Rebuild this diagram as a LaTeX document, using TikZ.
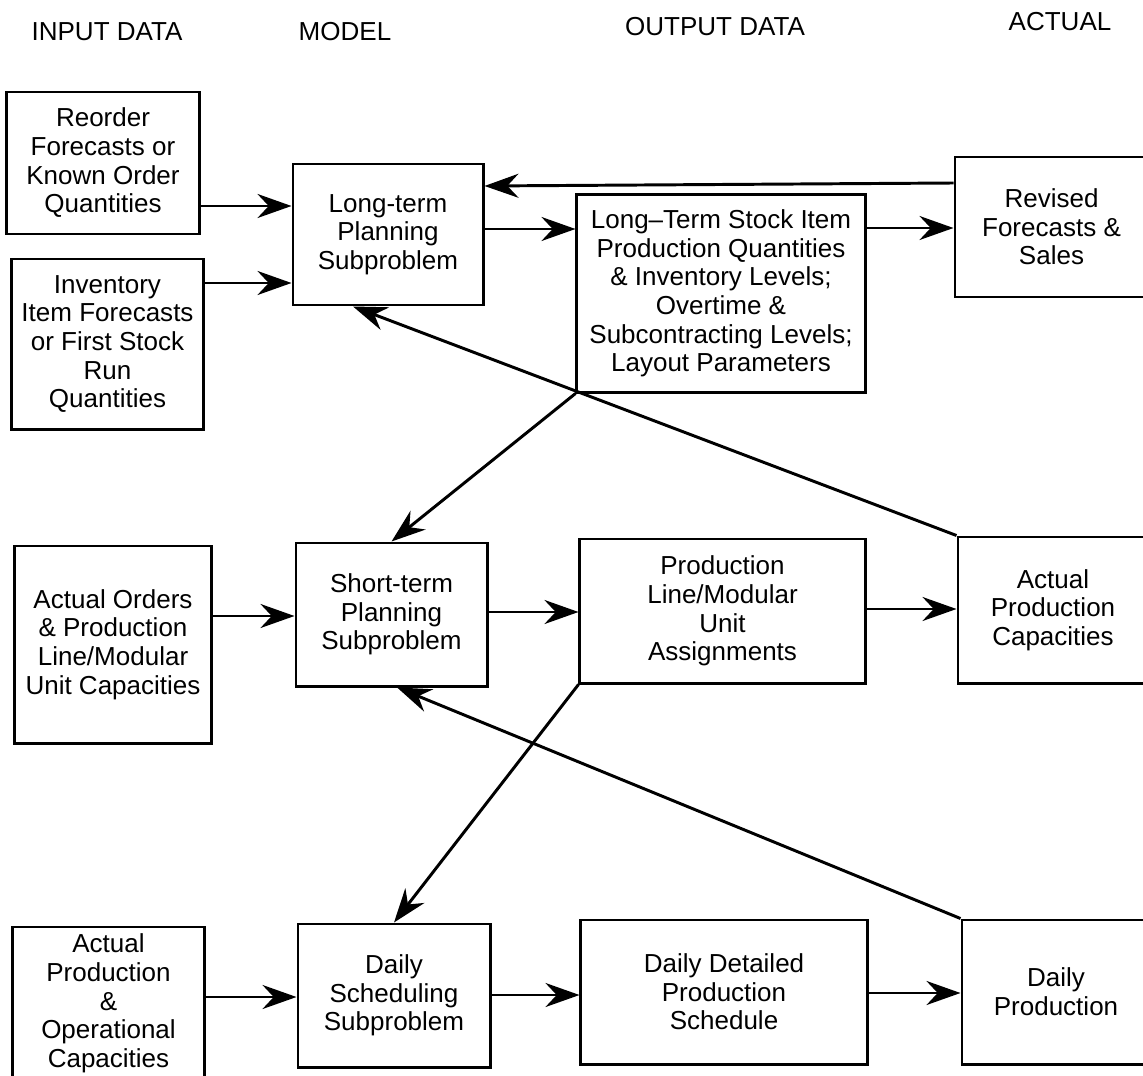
\documentclass[tikz,border=0pt]{standalone}
\usepackage{fontspec}
\setmainfont{Liberation Sans}
\usetikzlibrary{arrows.meta, positioning, calc}

\begin{document}
\begin{tikzpicture}[
    x=0.025cm, y=-0.025cm,
    box/.style={
        rectangle,
        draw=black,
        line width=2.1pt,
        font=\fontsize{18.5}{20.4}\selectfont,
        align=center,
        inner sep=0pt
    },
    arrow/.style={
        -{Stealth[length=0.85cm, width=0.6cm, inset=0.28cm]},
        line width=2.1pt
    },
    colhead/.style={
        font=\fontsize{18.5}{20.4}\selectfont
    }
]

\useasboundingbox (0,0) rectangle (1143,1076);
\clip (0,0) rectangle (1143,1076);

% Column headings
\node[colhead] (h-input) at (107,32) {INPUT DATA};
\node[colhead] (h-model) at (345,32) {MODEL};
\node[colhead] (h-output) at (715,27) {OUTPUT DATA};
\node[colhead] (h-actual) at (1060,22) {ACTUAL};

% Long-term level
\node[box, minimum width=4.8cm, minimum height=3.55cm] (reorder) at (103,163)
    {Reorder\\Forecasts or\\Known Order\\Quantities};
\node[box, minimum width=4.775cm, minimum height=4.25cm] (inv-fc) at (107.5,344)
    {Inventory\\Item Forecasts\\or First Stock\\Run\\Quantities};
\node[box, minimum width=4.75cm, minimum height=3.525cm] (lt-plan) at (388,234.5)
    {Long-term\\Planning\\Subproblem};
\node[box, minimum width=7.2cm, minimum height=4.925cm] (lt-out) at (721,293.5)
    {Long--Term Stock Item\\Production Quantities\\\& Inventory Levels;\\Overtime \&\\Subcontracting Levels;\\Layout Parameters};
\node[box, minimum width=4.825cm, minimum height=3.5cm] (revised) at (1051.5,227)
    {Revised\\Forecasts \&\\Sales};

% Short-term level
\node[box, minimum width=4.9cm, minimum height=4.925cm] (act-orders) at (113,644.5)
    {Actual Orders\\\& Production\\Line/Modular\\Unit Capacities};
\node[box, minimum width=4.775cm, minimum height=3.575cm] (st-plan) at (391.5,614.5)
    {Short-term\\Planning\\Subproblem};
\node[box, minimum width=7.125cm, minimum height=3.6cm] (st-out) at (722.5,611)
    {Production\\Line/Modular\\Unit\\Assignments};
\node[box, minimum width=4.75cm, minimum height=3.65cm] (act-cap) at (1053,610)
    {Actual\\Production\\Capacities};

% Daily level
\node[box, minimum width=4.775cm, minimum height=3.825cm] (act-prod) at (108.5,1003.5)
    {Actual\\Production\\\&\\Operational\\Capacities};
\node[box, minimum width=4.8cm, minimum height=3.575cm] (daily-plan) at (394,995.5)
    {Daily\\Scheduling\\Subproblem};
\node[box, minimum width=7.15cm, minimum height=3.6cm] (daily-out) at (724,992)
    {Daily Detailed\\Production\\Schedule};
\node[box, minimum width=4.7cm, minimum height=3.6cm] (daily-prod) at (1056,992)
    {Daily\\Production};

% Arrows
\draw[arrow] (reorder.east |- 0,206) -- (lt-plan.west |- 0,206);
\draw[arrow] (inv-fc.east |- 0,283) -- (lt-plan.west |- 0,283);
\draw[arrow] (lt-plan.east |- 0,229) -- (lt-out.west |- 0,229);
\draw[arrow] (lt-out.east |- 0,228) -- (revised.west |- 0,228);
\draw[arrow] (revised.west |- 0,183) -- (lt-plan.east |- 0,186);

\draw[arrow] (act-orders.east |- 0,616) -- (st-plan.west |- 0,616);
\draw[arrow] (st-plan.east |- 0,612) -- (st-out.west |- 0,612);
\draw[arrow] (st-out.east |- 0,609) -- (act-cap.west |- 0,609);

\draw[arrow] (act-prod.east |- 0,997) -- (daily-plan.west |- 0,997);
\draw[arrow] (daily-plan.east |- 0,995) -- (daily-out.west |- 0,995);
\draw[arrow] (daily-out.east |- 0,993) -- (daily-prod.west |- 0,993);

% Feedback between levels
\draw[arrow] (lt-out.south west) -- (st-plan.north);
\draw[arrow] (act-cap.north west) -- ([xshift=-0.875cm]lt-plan.south);
\draw[arrow] (st-out.south west) -- (daily-plan.north);
\draw[arrow] (daily-prod.north west) -- ([xshift=0.14cm]st-plan.south);

\end{tikzpicture}
\end{document}
